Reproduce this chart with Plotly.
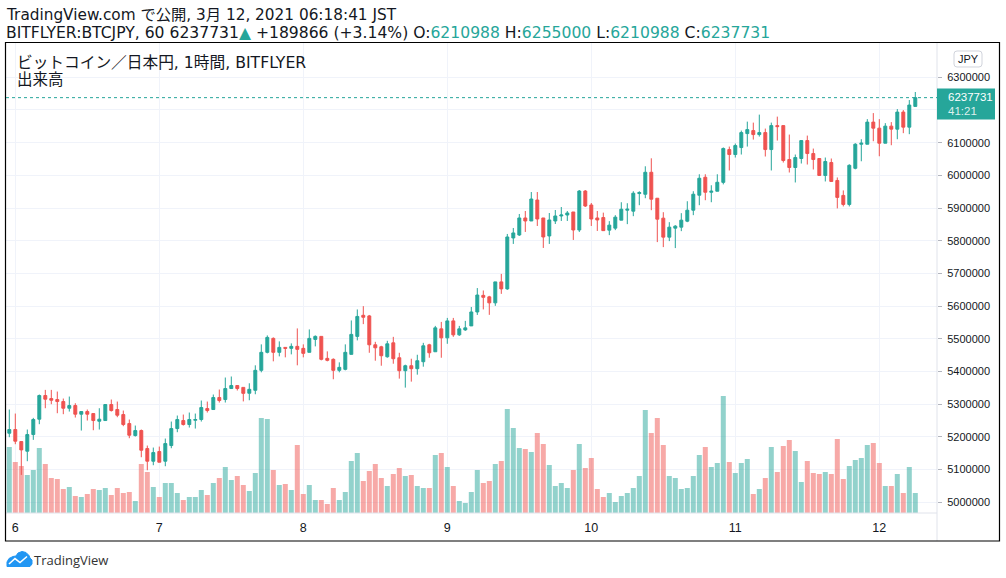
import pandas as pd
import plotly.graph_objects as go

# ---------------- data (BITFLYER:BTCJPY, 1h) ----------------
start_time = "2021-03-05 23:00"
n_candles = 152

opens = [5211300, 5222600, 5185800, 5156300, 5207300, 5254200, 5326600, 5317400, 5314400, 5308200,
         5287800, 5296000, 5269500, 5277600, 5271500, 5248000, 5250100, 5299100, 5283800, 5268400,
         5240900, 5204200, 5219500, 5164400, 5125700, 5155300, 5125700, 5173600, 5225600, 5250100,
         5237900, 5251000, 5253200, 5286800, 5283800, 5320500, 5314400, 5348000, 5357200, 5351500,
         5333600, 5342700, 5403700, 5458700, 5501400, 5458700, 5473900, 5470900, 5477000, 5470900,
         5458700, 5498300, 5507500, 5440300, 5437300, 5403700, 5406700, 5452500, 5507500, 5572000,
         5570100, 5481800, 5475700, 5445200, 5487800, 5442200, 5402600, 5417800, 5408700, 5430000,
         5481800, 5460500, 5530500, 5503100, 5554900, 5512200, 5527400, 5539600, 5582200, 5633000,
         5628400, 5610100, 5674200, 5652800, 5808600, 5817700, 5869700, 5860500, 5924600, 5869700,
         5814700, 5860500, 5875800, 5878800, 5888000, 5833000, 5952100, 5909400, 5869700, 5871000,
         5832500, 5838600, 5863000, 5893500, 5890500, 5944400, 5942300, 6009500, 5930100, 5869100,
         5811100, 5838600, 5841600, 5859900, 5893500, 5939300, 5994200, 5948400, 5951500, 5978600,
         6079000, 6063800, 6085100, 6127800, 6137000, 6124800, 6130900, 6079000, 6152200, 6152200,
         6048500, 6024100, 6051600, 6106500, 6066800, 6051600, 5999700, 6039300, 5984400, 5938700,
         5911100, 6021600, 6095300, 6095300, 6162900, 6144400, 6098400, 6150600, 6141400, 6193600,
         6147500, 6210988]
highs = [5283800, 5271500, 5185800, 5222600, 5258300, 5329700, 5343900, 5343900, 5338800, 5317400,
         5323500, 5303100, 5277600, 5283800, 5271500, 5287800, 5299100, 5314400, 5308200, 5280700,
         5253200, 5234800, 5222600, 5173600, 5167500, 5170500, 5195000, 5247000, 5265400, 5268400,
         5274600, 5271500, 5311300, 5308200, 5329700, 5345000, 5381700, 5384800, 5357200, 5351500,
         5364100, 5419000, 5483100, 5510500, 5504400, 5492200, 5473900, 5486100, 5531900, 5483100,
         5528800, 5510500, 5507500, 5461700, 5440300, 5428100, 5483100, 5556300, 5589900, 5600000,
         5573100, 5490900, 5478700, 5494000, 5506100, 5457400, 5420900, 5439200, 5451300, 5487800,
         5484800, 5539600, 5551800, 5564000, 5564000, 5539600, 5554900, 5597500, 5655300, 5648000,
         5631500, 5674200, 5698600, 5820800, 5839100, 5881900, 5891000, 5949100, 5949100, 5869700,
         5884900, 5894100, 5903200, 5891000, 5888000, 5955200, 5955200, 5915500, 5891000, 5886000,
         5860000, 5878300, 5917900, 5914800, 5951500, 5951500, 6027800, 6052200, 5930100, 5887400,
         5856900, 5847800, 5884400, 5920900, 5951500, 6003400, 6003400, 5969800, 6003400, 6085400,
         6088100, 6097300, 6137000, 6164400, 6161400, 6185800, 6143100, 6161400, 6179700, 6152200,
         6124800, 6063800, 6106500, 6121700, 6082000, 6051600, 6054600, 6051600, 5993600, 5954000,
         6033900, 6098400, 6110600, 6172100, 6190500, 6172100, 6159800, 6162900, 6202800, 6199700,
         6230400, 6255000]
lows = [5199100, 5177700, 5083800, 5125700, 5191000, 5238900, 5287800, 5300100, 5272500, 5269500,
        5277600, 5259300, 5219500, 5250100, 5220500, 5222600, 5250100, 5277600, 5260300, 5232800,
        5196000, 5201100, 5137900, 5098100, 5113400, 5122600, 5110400, 5165400, 5214400, 5234800,
        5228700, 5225600, 5247000, 5274600, 5283800, 5305200, 5305200, 5348000, 5342000, 5308600,
        5312200, 5330500, 5397600, 5455600, 5431200, 5446400, 5443400, 5452500, 5419000, 5443400,
        5458700, 5477000, 5434200, 5431200, 5376300, 5397600, 5403700, 5452500, 5495300, 5545000,
        5457400, 5433100, 5417800, 5442200, 5423900, 5378300, 5350800, 5369100, 5390400, 5414800,
        5442200, 5460500, 5442200, 5484800, 5506100, 5509100, 5524400, 5539600, 5573100, 5590000,
        5573400, 5600900, 5637600, 5649800, 5790300, 5814700, 5827000, 5860500, 5845200, 5778000,
        5790300, 5851300, 5860500, 5860500, 5802500, 5826900, 5903300, 5845200, 5830000, 5831000,
        5817200, 5832500, 5863000, 5850800, 5875200, 5908800, 5930100, 5893500, 5795900, 5780600,
        5798900, 5777600, 5829400, 5856900, 5878300, 5908800, 5924000, 5917900, 5951500, 5972500,
        6015000, 6054600, 6063800, 6088100, 6109500, 6118700, 6057700, 6015000, 6106500, 6039300,
        6008800, 5978300, 6036300, 6033200, 6018000, 5999700, 5981400, 5981400, 5899000, 5905000,
        5905000, 6018500, 6043100, 6095300, 6104500, 6058500, 6098400, 6092200, 6110600, 6129100,
        6126000, 6210988]
closes = [5222600, 5186900, 5160300, 5207300, 5253200, 5326600, 5315400, 5312300, 5308200, 5287800,
          5296000, 5269500, 5277600, 5269500, 5250100, 5254200, 5299100, 5280700, 5266400, 5237900,
          5205200, 5219500, 5159300, 5125700, 5152200, 5122600, 5179700, 5225600, 5253200, 5237900,
          5253200, 5253200, 5289900, 5280700, 5320500, 5311300, 5348000, 5357200, 5348000, 5333200,
          5345600, 5403700, 5458700, 5504400, 5458700, 5473900, 5470900, 5477000, 5467800, 5455600,
          5501400, 5507500, 5437300, 5434200, 5403700, 5412800, 5458700, 5513600, 5568500, 5566000,
          5481800, 5472600, 5448300, 5484800, 5439200, 5402600, 5417800, 5408700, 5433100, 5478700,
          5457400, 5533600, 5503100, 5554900, 5512200, 5530500, 5533600, 5582200, 5634000, 5627000,
          5610100, 5674200, 5652800, 5811600, 5823900, 5869700, 5860500, 5927700, 5866600, 5811600,
          5863600, 5875800, 5878800, 5885000, 5833000, 5952100, 5906300, 5866600, 5863600, 5831000,
          5847800, 5872200, 5896500, 5896500, 5945400, 5947400, 6009500, 5927100, 5866000, 5811100,
          5841600, 5844700, 5863000, 5893500, 5942300, 5991200, 5948400, 5951500, 5978900, 6082300,
          6063800, 6091200, 6130900, 6140000, 6124800, 6130900, 6079000, 6152200, 6149200, 6045400,
          6024100, 6054600, 6106500, 6066800, 6048500, 5999700, 6042400, 5981400, 5932600, 5911100,
          6030800, 6095300, 6098400, 6162900, 6144400, 6098400, 6150600, 6141400, 6193600, 6147500,
          6215100, 6237731]
volumes = [660, 510, 470, 380, 430, 650, 490, 350, 340, 240, 260, 170, 160, 190, 240, 230, 250, 180, 250, 200,
           210, 120, 490, 410, 260, 160, 300, 300, 200, 130, 160, 160, 230, 180, 300, 350, 460, 330, 370, 280,
           220, 400, 950, 940, 430, 280, 290, 230, 680, 190, 280, 130, 130, 90, 250, 130, 210, 520, 600, 320,
           420, 490, 350, 270, 390, 450, 370, 380, 270, 250, 250, 580, 600, 460, 270, 120, 100, 210, 430, 300,
           320, 490, 520, 1040, 850, 650, 640, 610, 800, 690, 480, 270, 300, 250, 430, 690, 450, 550, 240, 160,
           200, 110, 170, 200, 250, 370, 1030, 800, 950, 680, 370, 350, 240, 250, 370, 580, 660, 460, 500, 1170,
           510, 400, 500, 540, 190, 240, 350, 660, 410, 670, 730, 620, 310, 520, 400, 390, 410, 390, 740, 340,
           470, 530, 550, 680, 700, 500, 270, 270, 390, 200, 460, 200]

day_ticks = ["2021-03-06", "2021-03-07", "2021-03-08", "2021-03-09", "2021-03-10", "2021-03-11", "2021-03-12"]
day_labels = ["6", "7", "8", "9", "10", "11", "12"]
price_ticks = [5000000 + 100000 * i for i in range(14)]
change_abs = 189866
change_pct = 3.14
countdown = "41:21"

# ---------------- styling ----------------
UP = "#26a69a"
DOWN = "#ef5350"
UP_VOL = "rgba(38,166,154,0.5)"
DOWN_VOL = "rgba(239,83,80,0.5)"
TXT = "#131722"
GRID = "#f0f3fa"
SEP = "#e0e3eb"
FONT = "Liberation Sans, Arial, Noto Sans CJK JP, sans-serif"
HFONT = "DejaVu Sans, Noto Sans CJK JP, sans-serif"

W, H = 1006, 578
PL, PR, PT, PB = 6, 937, 43, 513


def X(px):
    return (px - PL) / (PR - PL)


def Y(py):
    return (PB - py) / (PB - PT)


last = closes[-1]
# the tick label hidden behind the last-price badge is left blank
price_labels = ["" if abs(v - last) < 60000 else str(v) for v in price_ticks]

times = pd.date_range(start_time, periods=n_candles, freq="h")
vol_colors = [UP_VOL if c >= o else DOWN_VOL for o, c in zip(opens, closes)]

fig = go.Figure()
fig.add_trace(go.Bar(
    x=times, y=volumes, marker=dict(color=vol_colors, line=dict(width=0)),
    width=3000000, yaxis="y", hoverinfo="skip", showlegend=False,
))
fig.add_trace(go.Candlestick(
    x=times, open=opens, high=highs, low=lows, close=closes, yaxis="y2",
    increasing=dict(line=dict(color=UP, width=1), fillcolor=UP),
    decreasing=dict(line=dict(color=DOWN, width=1), fillcolor=DOWN),
    whiskerwidth=0, showlegend=False,
))

t0 = times[0] - pd.Timedelta(minutes=33)
t1 = t0 + pd.Timedelta(minutes=int(round((PR - PL) / 6 * 60)))

fig.update_layout(
    width=W, height=H,
    margin=dict(l=PL, r=W - PR, t=PT, b=H - PB, pad=0),
    paper_bgcolor="white", plot_bgcolor="white",
    font=dict(family=FONT, color=TXT, size=12),
    showlegend=False, barmode="overlay",
    xaxis=dict(
        type="date", range=[t0, t1], tickvals=day_ticks, ticktext=day_labels,
        showgrid=True, gridcolor=GRID, gridwidth=1, zeroline=False, showline=False,
        ticks="", tickfont=dict(size=12.5, color=TXT), rangeslider=dict(visible=False),
        ticklabelstandoff=5,
    ),
    yaxis=dict(range=[0, 4700], visible=False, showgrid=False, zeroline=False),
    yaxis2=dict(
        overlaying="y", side="right", range=[4967300, 6404900],
        tickvals=price_ticks, ticktext=price_labels,
        showgrid=True, gridcolor=GRID, gridwidth=1, zeroline=False, showline=False,
        ticks="outside", ticklen=4, tickcolor="#b2b5be",
        tickfont=dict(size=11, color=TXT), ticklabelstandoff=3,
    ),
)

shapes = []
shapes.append(dict(type="line", xref="paper", yref="paper", x0=X(PR), x1=X(PR), y0=Y(PT), y1=Y(541),
                   line=dict(color=SEP, width=1)))
shapes.append(dict(type="line", xref="paper", yref="paper", x0=X(PL), x1=X(PR), y0=Y(PB), y1=Y(PB),
                   line=dict(color=SEP, width=1)))
shapes.append(dict(type="rect", xref="paper", yref="paper", x0=X(5.5), x1=X(999.5), y0=Y(42.5), y1=Y(541),
                   line=dict(color="#000000", width=1.2), fillcolor="rgba(0,0,0,0)"))
shapes.append(dict(type="line", xref="paper", yref="y2", x0=0, x1=1, y0=last, y1=last,
                   line=dict(color=UP, width=1, dash="dot")))
shapes.append(dict(type="rect", xref="paper", yref="paper", x0=X(937), x1=X(995), y0=Y(88.5), y1=Y(119.5),
                   line=dict(width=0), fillcolor=UP))


def path(points, close=True):
    s = "M " + " L ".join(f"{X(px):.5f},{Y(py):.5f}" for px, py in points)
    return s + (" Z" if close else "")


def rounded(x0, y0, x1, y1, r):
    return (f"M {X(x0 + r):.5f},{Y(y0):.5f} L {X(x1 - r):.5f},{Y(y0):.5f} "
            f"Q {X(x1):.5f},{Y(y0):.5f} {X(x1):.5f},{Y(y0 + r):.5f} "
            f"L {X(x1):.5f},{Y(y1 - r):.5f} Q {X(x1):.5f},{Y(y1):.5f} {X(x1 - r):.5f},{Y(y1):.5f} "
            f"L {X(x0 + r):.5f},{Y(y1):.5f} Q {X(x0):.5f},{Y(y1):.5f} {X(x0):.5f},{Y(y1 - r):.5f} "
            f"L {X(x0):.5f},{Y(y0 + r):.5f} Q {X(x0):.5f},{Y(y0):.5f} {X(x0 + r):.5f},{Y(y0):.5f} Z")


shapes.append(dict(type="path", xref="paper", yref="paper", path=rounded(954, 51, 982, 67, 3),
                   line=dict(color="#d1d4dc", width=1), fillcolor="white"))
cloud = [(7, 566.5), (7, 562), (9, 558.5), (13, 556.5), (16, 556), (18, 553), (22, 551.5), (26, 552.5),
         (29, 555.5), (30, 558), (32, 560), (32, 564), (30, 566.5)]
shapes.append(dict(type="path", xref="paper", yref="paper", path=path(cloud),
                   line=dict(color="#2196f3", width=1), fillcolor="#2196f3"))
shapes.append(dict(type="path", xref="paper", yref="paper",
                   path=path([(9, 564), (15, 558.5), (20, 562.5), (27, 556.5)], close=False),
                   line=dict(color="white", width=1.6)))
fig.update_layout(shapes=shapes)

ann = []


def text(px, py, s, size, color=TXT, anchor="left", family=FONT):
    ann.append(dict(x=X(px), y=Y(py), xref="paper", yref="paper", text=s, showarrow=False,
                    xanchor=anchor, yanchor="middle", font=dict(size=size, color=color, family=family)))


text(4, 14.5, "TradingView.com で公開, 3月 12, 2021 06:18:41 JST", 15.3, family=HFONT)
tc = lambda v: f"<span style='color:{UP}'>{v}</span>"
line2 = (f"BITFLYER:BTCJPY, 60 {last}{tc('▲')} +{change_abs} (+{change_pct:.2f}%) "
         f"O:{tc(opens[-1])} H:{tc(highs[-1])} L:{tc(lows[-1])} C:{tc(closes[-1])}")
text(4, 33, line2, 15.6, family=HFONT)
text(15, 63, "ビットコイン／日本円, 1時間, BITFLYER", 15.7, family=HFONT)
text(15, 80.5, "出来高", 15.5, family=HFONT)
text(968, 59, "JPY", 11, anchor="center")
text(946, 97.5, str(last), 11.5, color="white")
text(946, 111, countdown, 11.5, color="rgba(255,255,255,0.85)")
text(32, 559.5, "TradingView", 13, color="#333333", family="Open Sans, sans-serif")
fig.update_layout(annotations=ann)

fig.write_html("out.html", config={"displayModeBar": False},
               post_script="document.body.style.margin='0';document.body.style.padding='0';")
